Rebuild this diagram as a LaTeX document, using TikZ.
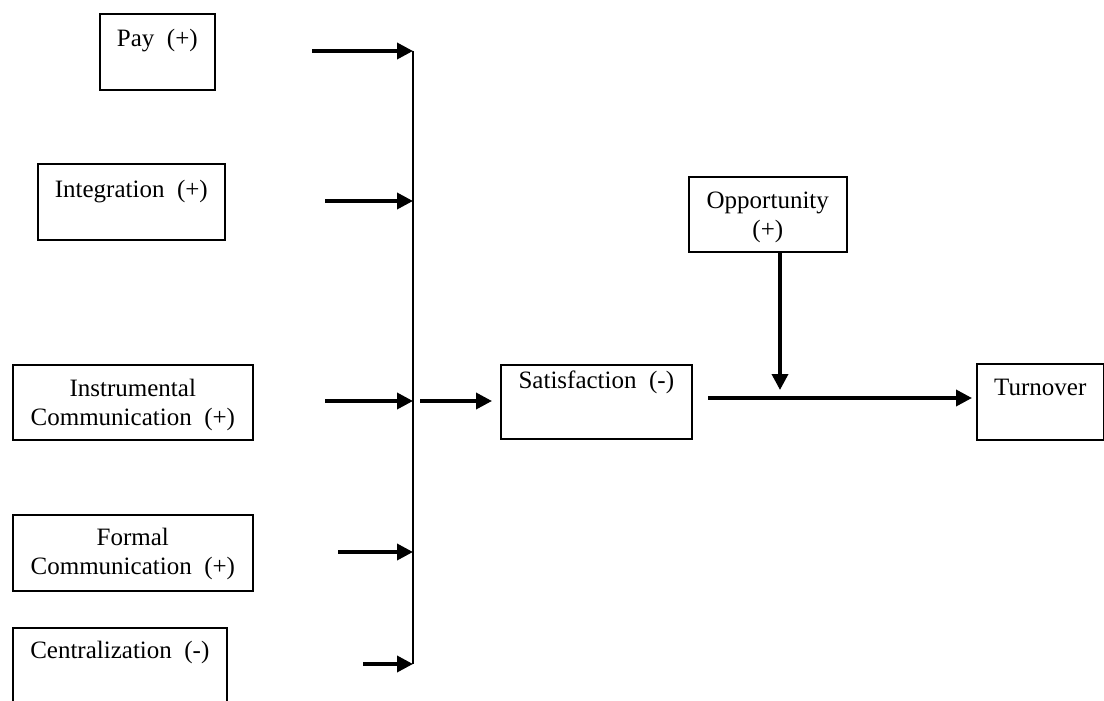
\documentclass[tikz,border=0pt]{standalone}
\usepackage{fontspec}
\setmainfont{Liberation Serif}
\usetikzlibrary{arrows.meta}
\newcommand{\boxfont}{\fontsize{12.5}{14.5}\selectfont}
\newcommand{\twoline}[2]{\begin{tabular}[t]{@{}c@{}}#1\\#2\end{tabular}}
\tikzset{
  box/.style={draw, line width=0.8pt, inner sep=0pt, align=center, font=\boxfont, anchor=north west},
  arr/.style={line width=1.8pt, -{Triangle[length=8pt,width=8pt]}, shorten >=0pt},
  bus/.style={line width=1pt}
}
\begin{document}
\begin{tikzpicture}[x=0.5pt,y=-0.5pt]
\useasboundingbox (0,0) rectangle (1104,701);
\clip (0,0) rectangle (1104,701);
% boxes
\node[box, minimum width=57.5pt, text height=16.5pt, text depth=21.5pt] (pay) at (99,13) {Pay~~(+)};
\node[box, minimum width=93.5pt, text height=17pt, text depth=21pt] (integ) at (37,163) {Integration~~(+)};
\node[box, minimum width=120pt, text height=16pt, text depth=21.5pt] (instr) at (12,364) {\twoline{Instrumental}{Communication~~(+)}};
\node[box, minimum width=120pt, text height=15.5pt, text depth=22.5pt] (formal) at (12,514) {\twoline{Formal}{Communication~~(+)}};
\node[box, minimum width=107pt, text height=15.5pt, text depth=24pt] (central) at (12,627) {Centralization~~(-)};
\node[box, minimum width=95.5pt, text height=12pt, text depth=25pt] (satis) at (500,364) {Satisfaction~~(-)};
\node[box, minimum width=79pt, text height=16pt, text depth=21.5pt] (oppor) at (688,176) {\twoline{Opportunity}{(+)}};
\node[box, minimum width=63.5pt, text height=16pt, text depth=22pt] (turn) at (976,363) {Turnover};
% bus
\coordinate (bustop) at (413,51);
\coordinate (busbot) at (413,664);
\draw[bus] (bustop) -- (busbot);
% arrow starts
\coordinate (payS) at (312,51);
\coordinate (integS) at (325,201);
\coordinate (instrS) at (325,401);
\coordinate (formalS) at (338,552);
\coordinate (centralS) at (363,664);
\draw[arr] (payS) -- (payS -| bustop);
\draw[arr] (integS) -- (integS -| bustop);
\draw[arr] (instrS) -- (instrS -| bustop);
\draw[arr] (formalS) -- (formalS -| bustop);
\draw[arr] (centralS) -- (centralS -| bustop);
% bus to satisfaction
\coordinate (busout) at (420,401);
\coordinate (satisIn) at (492,401);
\draw[arr] (busout) -- (satisIn);
% satisfaction to turnover
\coordinate (satisOut) at (708,398);
\coordinate (turnIn) at (972,398);
\draw[arr] (satisOut) -- (turnIn);
% opportunity moderating arrow
\coordinate (oppTip) at (780,390);
\draw[arr] (oppor.south -| oppTip) -- (oppTip);
\end{tikzpicture}
\end{document}
